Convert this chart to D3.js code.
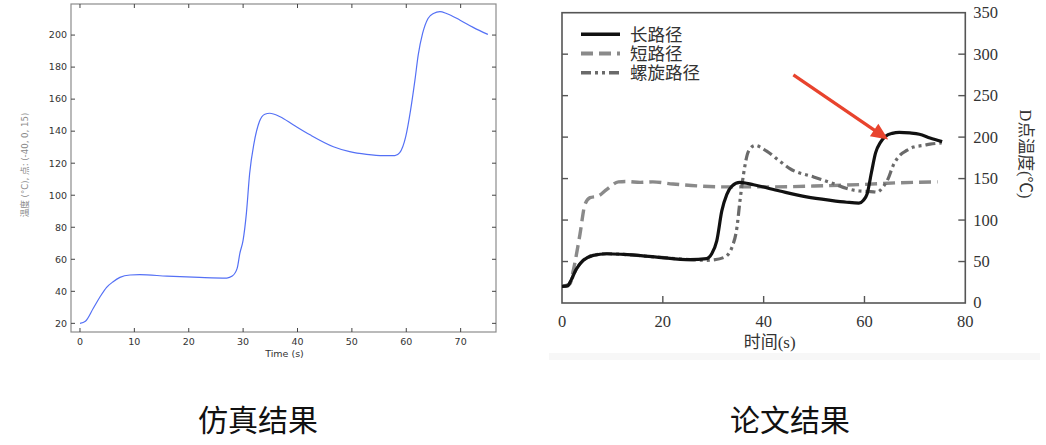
<!DOCTYPE html>
<html>
<head>
<meta charset="utf-8">
<script src="https://cdn.jsdelivr.net/npm/d3@7"></script>
<style>
  html, body { margin: 0; padding: 0; background: #fff; }
  svg { display: block; }
</style>
</head>
<body>
<div id="chart"></div>
<script>
// ---- Data ----

// Left: simulated temperature at point (-40, 0, 15)
const simData = [
  [0, 20], [1, 21.3], [2.45, 29.4], [3.7, 36.6], [4.9, 42.5], [6.1, 46], [7.35, 48.7],
  [9.2, 50.2], [11, 50.4], [16, 49.5], [22, 48.7], [27, 48.3], [28, 49.5], [28.9, 54.3],
  [29.4, 63.7], [30, 72], [30.6, 88.7], [31.2, 113.6], [32, 132.4], [33, 146], [34, 150.6],
  [34.9, 151.2], [36.8, 149], [39.2, 144], [42.3, 137.7], [46.6, 130.3], [49.6, 127.2],
  [52.7, 125.5], [55.8, 124.7], [57.9, 124.7], [58.8, 126.6], [59.9, 136.6], [60.8, 153.3],
  [61.6, 172], [62.2, 187.6], [63, 201], [64, 210.4], [65, 213.5], [66.2, 214.6],
  [67.4, 213.5], [69.9, 209.3], [72.3, 204.8], [75, 200.4]
];
const simTicksX = [0, 10, 20, 30, 40, 50, 60, 70];
const simTicksY = [20, 40, 60, 80, 100, 120, 140, 160, 180, 200];

// Right: paper result, three scan paths
const longPath = [
  [0, 20], [1.2, 21], [1.6, 25], [2.9, 41.5], [4.2, 51.4], [6.2, 57.4], [8.9, 59.4],
  [12.2, 58.6], [18.8, 55.4], [25.4, 52.3], [28.7, 53.5], [29.7, 59.4], [30.7, 75],
  [31.7, 111], [32.7, 131], [33.7, 141], [35.3, 145.5], [38, 142.5], [43.2, 135],
  [48.5, 128], [53, 124], [56.5, 121.5], [58.9, 120.5], [59.8, 124], [60.5, 131],
  [61.4, 158], [62.2, 181], [63.2, 194], [64.2, 201], [65.5, 204.5], [66.9, 205.7],
  [69, 205], [70.9, 203.5], [73, 199], [75.4, 194.5]
];
const shortPath = [
  [0, 20], [1.6, 23.5], [2.25, 39.5], [3.57, 83], [4.56, 119], [5.56, 127], [7.2, 129],
  [8.9, 137], [11.2, 146], [13, 146.5], [15.5, 145.4], [18, 146], [22, 143.5],
  [27.4, 141], [32.7, 140], [42, 140], [50, 141], [60, 143], [67, 145], [74.5, 146]
];
const spiralPath = [
  [0, 20], [1.2, 21], [1.6, 25], [2.9, 41.5], [4.2, 51.4], [6.2, 57.4], [8.9, 59.4],
  [12.2, 58.6], [18.8, 55.4], [25.4, 52.3], [28.7, 51.5], [30, 52], [32.3, 55.4],
  [33.7, 67], [34.7, 91], [35.3, 123], [36, 155], [37, 183], [38.3, 190], [40.6, 183],
  [43.2, 171], [45.2, 162], [49.9, 152], [53.8, 144], [56.5, 138], [59, 135], [61.8, 134],
  [62.4, 133.5], [63.7, 140], [64.7, 150], [65.7, 166], [67, 178], [68.4, 184],
  [69.7, 188], [71.7, 190], [73, 191.5], [75.3, 193]
];
const paperNames = ["长路径", "短路径", "螺旋路径"];
const paperTicksX = [0, 20, 40, 60, 80];
const paperTicksY = [0, 50, 100, 150, 200, 250, 300, 350];
// Arrow annotation, in data units: [time, temp] start -> tip
const arrowFrom = [45.9, 275];
const arrowTo = [64.7, 197];

const captions = ["仿真结果", "论文结果"];

// ---- Canvas ----
const W = 1046, H = 445;
const svg = d3.select("#chart").append("svg")
  .attr("width", W).attr("height", H)
  .attr("viewBox", `0 0 ${W} ${H}`);

// =============== Left panel: simulation ===============
{
  const g = svg.append("g");
  const x = d3.scaleLinear().domain([-1.65, 76.5]).range([71, 496]);
  const y = d3.scaleLinear().domain([14.6, 219.4]).range([332, 4]);
  const [x0, x1] = x.range(), [y0, y1] = y.range();
  const frame = "#8c8c8c", tk = 4;

  g.append("rect")
    .attr("x", x0).attr("y", y1)
    .attr("width", x1 - x0).attr("height", y0 - y1)
    .attr("fill", "none").attr("stroke", frame).attr("stroke-width", 1.2);

  // inward ticks on all four sides
  simTicksX.forEach(t => {
    g.append("line").attr("x1", x(t)).attr("x2", x(t)).attr("y1", y0).attr("y2", y0 - tk)
      .attr("stroke", "#444");
    g.append("line").attr("x1", x(t)).attr("x2", x(t)).attr("y1", y1).attr("y2", y1 + tk)
      .attr("stroke", "#444");
    g.append("text").attr("x", x(t)).attr("y", y0 + 13)
      .attr("text-anchor", "middle").attr("font-size", 9.5)
      .attr("font-family", "DejaVu Sans, sans-serif").attr("fill", "#333")
      .text(t);
  });
  simTicksY.forEach(v => {
    g.append("line").attr("x1", x0).attr("x2", x0 + tk).attr("y1", y(v)).attr("y2", y(v))
      .attr("stroke", "#444");
    g.append("line").attr("x1", x1).attr("x2", x1 - tk).attr("y1", y(v)).attr("y2", y(v))
      .attr("stroke", "#444");
    g.append("text").attr("x", x0 - 4).attr("y", y(v)).attr("dy", "0.35em")
      .attr("text-anchor", "end").attr("font-size", 9.5)
      .attr("font-family", "DejaVu Sans, sans-serif").attr("fill", "#333")
      .text(v);
  });

  g.append("path")
    .datum(simData)
    .attr("fill", "none")
    .attr("stroke", "#5470f5")
    .attr("stroke-width", 1.2)
    .attr("d", d3.line().x(d => x(d[0])).y(d => y(d[1])).curve(d3.curveMonotoneX));

  g.append("text")
    .attr("x", (x0 + x1) / 2 + 1).attr("y", y0 + 25)
    .attr("text-anchor", "middle").attr("font-size", 9.5)
    .attr("font-family", "DejaVu Sans, sans-serif").attr("fill", "#333")
    .text("Time (s)");

  g.append("text")
    .attr("transform", `translate(25, 165) rotate(-90)`)
    .attr("text-anchor", "middle").attr("dy", "0.35em").attr("font-size", 8.6)
    .attr("font-family", "DejaVu Sans, 'Noto Sans CJK SC', sans-serif").attr("fill", "#888")
    .text("温度 (°C), 点: (-40, 0, 15)");
}

// =============== Right panel: paper figure ===============
{
  const g = svg.append("g");
  // faint backdrop of the pasted figure
  g.append("rect").attr("x", 549).attr("y", 0).attr("width", 491).attr("height", 360)
    .attr("fill", "#f7f7f7");
  g.append("rect").attr("x", 549).attr("y", 0).attr("width", 491).attr("height", 353)
    .attr("fill", "#fff");

  const x = d3.scaleLinear().domain([0, 80]).range([562, 965.3]);
  const y = d3.scaleLinear().domain([0, 350]).range([303, 12.7]);
  const [x0, x1] = x.range(), [y0, y1] = y.range();
  const frame = "#555", tk = 7;
  const serif = "'Liberation Serif', 'Times New Roman', serif";
  const cjkSerif = "'Liberation Serif', 'Noto Sans CJK SC', serif";

  g.append("rect")
    .attr("x", x0).attr("y", y1)
    .attr("width", x1 - x0).attr("height", y0 - y1)
    .attr("fill", "none").attr("stroke", frame).attr("stroke-width", 1.6);

  paperTicksX.forEach(t => {
    if (t > 0 && t < 80) {
      g.append("line").attr("x1", x(t)).attr("x2", x(t)).attr("y1", y0).attr("y2", y0 - tk)
        .attr("stroke", frame).attr("stroke-width", 1.4);
    }
    g.append("text").attr("x", x(t)).attr("y", y0 + 24)
      .attr("text-anchor", "middle").attr("font-size", 16.5)
      .attr("font-family", serif).attr("fill", "#333")
      .text(t);
  });
  paperTicksY.forEach(v => {
    if (v > 0 && v < 350) {
      g.append("line").attr("x1", x1).attr("x2", x1 - tk).attr("y1", y(v)).attr("y2", y(v))
        .attr("stroke", frame).attr("stroke-width", 1.4);
      g.append("line").attr("x1", x0).attr("x2", x0 + tk - 1).attr("y1", y(v)).attr("y2", y(v))
        .attr("stroke", frame).attr("stroke-width", 1.4);
    }
    g.append("text").attr("x", x1 + 8).attr("y", y(v)).attr("dy", "0.33em")
      .attr("text-anchor", "start").attr("font-size", 16.5)
      .attr("font-family", serif).attr("fill", "#333")
      .text(v);
  });

  const line = d3.line().x(d => x(d[0])).y(d => y(d[1])).curve(d3.curveMonotoneX);
  const styles = [
    { data: longPath,   stroke: "#111", width: 3.2, dash: null },
    { data: shortPath,  stroke: "#8a8a8a", width: 3.4, dash: "12,6" },
    { data: spiralPath, stroke: "#6a6a6a", width: 3.2, dash: "10,4,3,4,3,4" }
  ];
  // draw spiral and short under the long path, as in the figure
  [styles[1], styles[2], styles[0]].forEach(s => {
    g.append("path")
      .datum(s.data)
      .attr("fill", "none")
      .attr("stroke", s.stroke)
      .attr("stroke-width", s.width)
      .attr("stroke-dasharray", s.dash)
      .attr("stroke-linejoin", "round")
      .attr("d", line);
  });

  // legend
  const lg = g.append("g");
  paperNames.forEach((name, i) => {
    const ly = 34.3 + i * 19.2;
    lg.append("line").attr("x1", 581).attr("x2", 620).attr("y1", ly).attr("y2", ly)
      .attr("stroke", styles[i].stroke).attr("stroke-width", styles[i].width + 0.4)
      .attr("stroke-dasharray", styles[i].dash);
    lg.append("text").attr("x", 630).attr("y", ly).attr("dy", "0.36em")
      .attr("font-size", 17.5).attr("font-family", cjkSerif).attr("fill", "#333")
      .text(name);
  });

  // red arrow annotation
  const ax0 = x(arrowFrom[0]), ay0 = y(arrowFrom[1]);
  const ax1 = x(arrowTo[0]), ay1 = y(arrowTo[1]);
  const ang = Math.atan2(ay1 - ay0, ax1 - ax0);
  const headLen = 17, headW = 7.5;
  const bx = ax1 - headLen * Math.cos(ang), by = ay1 - headLen * Math.sin(ang);
  g.append("line").attr("x1", ax0).attr("y1", ay0).attr("x2", bx + 2 * Math.cos(ang)).attr("y2", by + 2 * Math.sin(ang))
    .attr("stroke", "#e8432d").attr("stroke-width", 3.2);
  g.append("path")
    .attr("d", `M${ax1},${ay1}L${bx - headW * Math.sin(ang)},${by + headW * Math.cos(ang)}L${bx + headW * Math.sin(ang)},${by - headW * Math.cos(ang)}Z`)
    .attr("fill", "#e8432d");

  g.append("text").attr("x", (x0 + x1) / 2 + 6).attr("y", y0 + 45)
    .attr("text-anchor", "middle").attr("font-size", 17)
    .attr("font-family", cjkSerif).attr("fill", "#333")
    .text("时间(s)");

  g.append("text")
    .attr("transform", `translate(1026, 154) rotate(90)`)
    .attr("text-anchor", "middle").attr("dy", "0.35em").attr("font-size", 16.5)
    .attr("font-family", cjkSerif).attr("fill", "#333")
    .text("D点温度(℃)");
}

// =============== Captions ===============
const capX = [258, 790];
captions.forEach((c, i) => {
  svg.append("text")
    .attr("x", capX[i]).attr("y", 431)
    .attr("text-anchor", "middle")
    .attr("font-size", 30)
    .attr("font-family", "'Noto Sans CJK SC', sans-serif")
    .attr("fill", "#111")
    .text(c);
});
</script>
</body>
</html>
